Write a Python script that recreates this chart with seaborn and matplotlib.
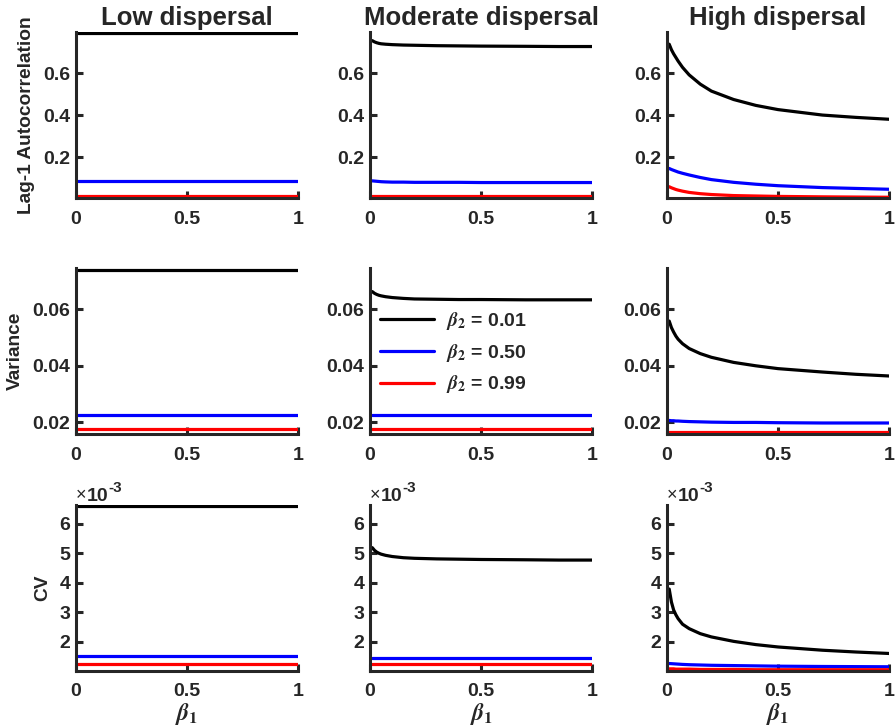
import numpy as np
import pandas as pd
import matplotlib
matplotlib.use("Agg")
import matplotlib.pyplot as plt
import seaborn as sns

# ---------------- data ----------------
beta1 = [0.01, 0.02, 0.03, 0.04, 0.05, 0.07, 0.1, 0.15, 0.2, 0.3, 0.4, 0.5, 0.7, 0.85, 1.0]
N = len(beta1)
col_titles = ["Low dispersal", "Moderate dispersal", "High dispersal"]
row_labels = ["Lag-1 Autocorrelation", "Variance", "CV"]
series_labels = [r"$\beta_2$ = 0.01", r"$\beta_2$ = 0.50", r"$\beta_2$ = 0.99"]

# Lag-1 autocorrelation
ac_low_b001 = [0.790] * N
ac_low_b050 = [0.085] * N
ac_low_b099 = [0.014] * N
ac_mod_b001 = [0.755, 0.749, 0.745, 0.742, 0.740, 0.738, 0.736, 0.734, 0.733, 0.731, 0.730, 0.729, 0.728, 0.727, 0.727]
ac_mod_b050 = [0.088, 0.087, 0.086, 0.085, 0.084, 0.083, 0.082, 0.082, 0.081, 0.081, 0.081, 0.080, 0.080, 0.080, 0.080]
ac_mod_b099 = [0.014] * N
ac_high_b001 = [0.738, 0.712, 0.692, 0.675, 0.658, 0.628, 0.592, 0.548, 0.515, 0.475, 0.447, 0.427, 0.401, 0.390, 0.381]
ac_high_b050 = [0.147, 0.142, 0.138, 0.134, 0.130, 0.124, 0.116, 0.104, 0.094, 0.081, 0.072, 0.065, 0.056, 0.052, 0.048]
ac_high_b099 = [0.060, 0.055, 0.051, 0.047, 0.044, 0.039, 0.033, 0.027, 0.023, 0.018, 0.016, 0.014, 0.012, 0.011, 0.010]

# Variance
var_low_b001 = [0.0740] * N
var_low_b050 = [0.0227] * N
var_low_b099 = [0.0176] * N
var_mod_b001 = [0.0662, 0.0656, 0.0652, 0.0649, 0.0647, 0.0644, 0.0641, 0.0638, 0.0636, 0.0635, 0.0634, 0.0634, 0.0633, 0.0633, 0.0633]
var_mod_b050 = [0.0225] * N
var_mod_b099 = [0.0177] * N
var_high_b001 = [0.0558, 0.0535, 0.0519, 0.0505, 0.0494, 0.0478, 0.0461, 0.0443, 0.0430, 0.0412, 0.0400, 0.0390, 0.0378, 0.0370, 0.0364]
var_high_b050 = [0.0207, 0.0206, 0.0206, 0.0205, 0.0205, 0.0204, 0.0203, 0.0202, 0.0201, 0.0200, 0.0200, 0.0199, 0.0198, 0.0198, 0.0198]
var_high_b099 = [0.0165] * N

# CV
cv_low_b001 = [6.60e-3] * N
cv_low_b050 = [1.52e-3] * N
cv_low_b099 = [1.27e-3] * N
cv_mod_b001 = [5.19e-3, 5.10e-3, 5.04e-3, 5.00e-3, 4.97e-3, 4.93e-3, 4.89e-3, 4.85e-3, 4.83e-3, 4.81e-3, 4.80e-3, 4.79e-3, 4.78e-3, 4.77e-3, 4.77e-3]
cv_mod_b050 = [1.47e-3] * N
cv_mod_b099 = [1.25e-3] * N
cv_high_b001 = [3.79e-3, 3.35e-3, 3.08e-3, 2.92e-3, 2.79e-3, 2.60e-3, 2.45e-3, 2.28e-3, 2.17e-3, 2.02e-3, 1.91e-3, 1.83e-3, 1.72e-3, 1.66e-3, 1.61e-3]
cv_high_b050 = [1.27e-3, 1.265e-3, 1.26e-3, 1.255e-3, 1.25e-3, 1.24e-3, 1.23e-3, 1.22e-3, 1.21e-3, 1.20e-3, 1.19e-3, 1.18e-3, 1.17e-3, 1.165e-3, 1.16e-3]
cv_high_b099 = [1.09e-3, 1.09e-3, 1.09e-3, 1.08e-3, 1.08e-3, 1.08e-3, 1.08e-3, 1.07e-3, 1.07e-3, 1.07e-3, 1.06e-3, 1.06e-3, 1.06e-3, 1.06e-3, 1.06e-3]

xticks = [0, 0.5, 1]
xticklabels = ["0", "0.5", "1"]
row_yticks = [[0.2, 0.4, 0.6], [0.02, 0.04, 0.06], [2e-3, 3e-3, 4e-3, 5e-3, 6e-3]]
row_yticklabels = [["0.2", "0.4", "0.6"], ["0.02", "0.04", "0.06"], ["2", "3", "4", "5", "6"]]
row_ylims = [(0.005, 0.797), (0.0159, 0.0747), (1.017e-3, 6.65e-3)]

panels = [
    [(ac_low_b001, ac_low_b050, ac_low_b099), (ac_mod_b001, ac_mod_b050, ac_mod_b099), (ac_high_b001, ac_high_b050, ac_high_b099)],
    [(var_low_b001, var_low_b050, var_low_b099), (var_mod_b001, var_mod_b050, var_mod_b099), (var_high_b001, var_high_b050, var_high_b099)],
    [(cv_low_b001, cv_low_b050, cv_low_b099), (cv_mod_b001, cv_mod_b050, cv_mod_b099), (cv_high_b001, cv_high_b050, cv_high_b099)],
]
colors = ["#000000", "#0000ff", "#ff0000"]

# ---------------- style ----------------
sns.set_theme(style="ticks")
plt.rcParams["font.family"] = ["Liberation Sans", "DejaVu Sans"]
plt.rcParams["font.weight"] = "bold"
plt.rcParams["axes.labelweight"] = "bold"
plt.rcParams["axes.titleweight"] = "bold"
plt.rcParams["mathtext.fontset"] = "stix"

axcol = "#262626"
fig = plt.figure(figsize=(8.96, 7.28), dpi=100)
lefts = [0.0848, 0.413, 0.7444]
bottoms = [0.7276, 0.4038, 0.0783]
W, H = 0.2478, 0.2287

for r in range(3):
    for c in range(3):
        ax = fig.add_axes([lefts[c], bottoms[r], W, H])
        is_leg = (r == 1 and c == 1)
        for k in range(3):
            df = pd.DataFrame({"beta1": beta1, "val": panels[r][c][k]})
            sns.lineplot(data=df, x="beta1", y="val", color=colors[k], linewidth=2.3,
                         ax=ax, label=series_labels[k] if is_leg else None,
                         legend="auto" if is_leg else False)
        ax.set_xlim(0, 1)
        ax.set_ylim(*row_ylims[r])
        ax.set_xticks(xticks)
        ax.set_xticklabels(xticklabels)
        ax.set_yticks(row_yticks[r])
        ax.set_yticklabels(row_yticklabels[r])
        for s in ["top", "right"]:
            ax.spines[s].set_visible(False)
        for s in ["left", "bottom"]:
            ax.spines[s].set_linewidth(2.2)
            ax.spines[s].set_color(axcol)
        ax.tick_params(axis="both", direction="in", length=5, width=2.2, colors=axcol,
                       labelsize=14)
        ax.tick_params(axis="x", pad=9)
        ax.tick_params(axis="y", pad=4)
        for lab in ax.get_xticklabels() + ax.get_yticklabels():
            lab.set_fontweight("bold")
        ax.set_xlabel("")
        ax.set_ylabel("")
        if c == 0:
            ax.set_ylabel(row_labels[r], fontsize=13.8, fontweight="bold", color=axcol,
                          labelpad=6)
        if r == 0:
            ax.set_title(col_titles[c], fontsize=18.5, fontweight="bold", pad=5)
        if r == 2:
            ax.set_xlabel(r"$\beta_1$", fontsize=17, color=axcol, labelpad=0.5)
            t1 = ax.text(0.0, 1.0, "×", transform=ax.transAxes, fontsize=13,
                         ha="left", va="bottom", color=axcol, fontweight="normal")
            t2 = ax.annotate("10", xy=(1.0, 0.0), xycoords=t1, fontsize=14,
                             ha="left", va="bottom", color=axcol, fontweight="bold")
            ax.annotate("-3", xy=(1.0, 0.55), xycoords=t2, fontsize=11,
                        ha="left", va="bottom", color=axcol, fontweight="bold")
        if is_leg:
            ax.legend(loc="upper left", bbox_to_anchor=(0.045, 0.745), frameon=False,
                      fontsize=14, handlelength=2.8, handletextpad=0.6,
                      labelspacing=0.5, borderpad=0, borderaxespad=0)

fig.savefig("out.png", dpi=100)
